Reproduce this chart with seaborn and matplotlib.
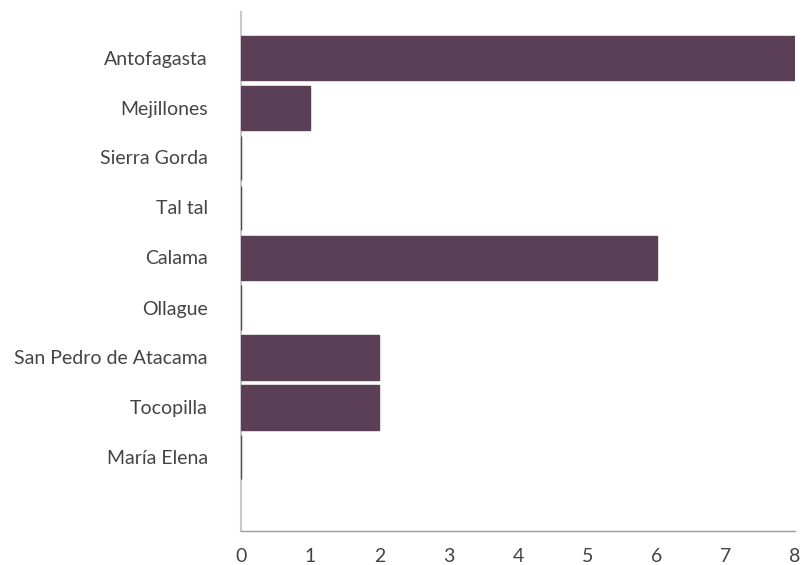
import matplotlib
matplotlib.use("Agg")
import matplotlib.pyplot as plt
import pandas as pd
import seaborn as sns

comunas = ["Antofagasta", "Mejillones", "Sierra Gorda", "Tal tal", "Calama",
           "Ollague", "San Pedro de Atacama", "Tocopilla", "María Elena"]
valores = [8, 1, 0, 0, 6, 0, 2, 2, 0]
x_ticks = [0, 1, 2, 3, 4, 5, 6, 7, 8]

sns.set_theme(style="white")
plt.rcParams["font.family"] = ["Lato", "DejaVu Sans"]

df = pd.DataFrame({"comuna": comunas, "valor": valores})

fig = plt.figure(figsize=(8.03, 5.65), dpi=100)
ax = fig.add_axes([241 / 803, 34 / 565, 554 / 803, 519 / 565])

sns.barplot(data=df, y="comuna", x="valor", orient="h", color="#5b3f56",
            saturation=1, width=0.88, edgecolor="#5b3f56", linewidth=1, ax=ax)
# bars on top of the left spine, so zero values show as a thin dark line
for bar in ax.patches:
    bar.set_zorder(3)

ax.set_xlim(0, 8)
ax.set_ylim(9.47, -0.91)
ax.set_xticks(x_ticks)
ax.set_xlabel("")
ax.set_ylabel("")
ax.tick_params(axis="both", length=0, labelsize=14, labelcolor="#444444")
ax.tick_params(axis="y", pad=24)
ax.tick_params(axis="x", pad=12)

for side in ["top", "right"]:
    ax.spines[side].set_visible(False)
ax.spines["left"].set_color("#c8c8c8")
ax.spines["left"].set_linewidth(1.5)
ax.spines["bottom"].set_color("#9a9a9a")
ax.spines["bottom"].set_linewidth(1)

fig.savefig("out.png", dpi=100)
